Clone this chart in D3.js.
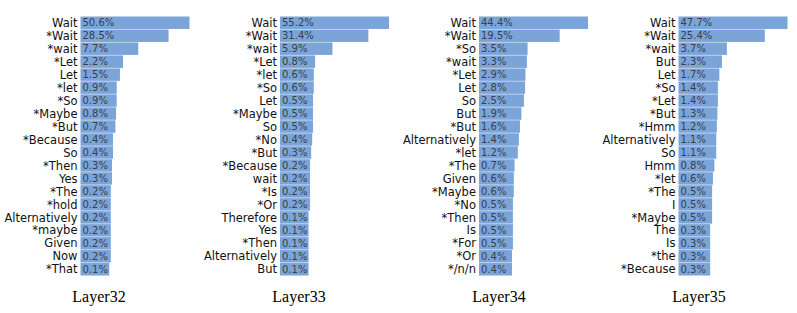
<!DOCTYPE html>
<html><head><meta charset="utf-8">
<script src="https://cdn.jsdelivr.net/npm/d3@7"></script>
<style>body{margin:0;background:#fff}svg{display:block}</style>
</head><body>
<svg id="c" width="797" height="313"></svg>
<script>
const panelTitles = ["Layer32", "Layer33", "Layer34", "Layer35"];
const tokens32 = ["Wait","*Wait","*wait","*Let","Let","*let","*So","*Maybe","*But","*Because","So","*Then","Yes","*The","*hold","Alternatively","*maybe","Given","Now","*That"];
const values32 = [50.6,28.5,7.7,2.2,1.5,0.9,0.9,0.8,0.7,0.4,0.4,0.3,0.3,0.2,0.2,0.2,0.2,0.2,0.2,0.1];
const tokens33 = ["Wait","*Wait","*wait","*Let","*let","*So","Let","*Maybe","So","*No","*But","*Because","wait","*Is","*Or","Therefore","Yes","*Then","Alternatively","But"];
const values33 = [55.2,31.4,5.9,0.8,0.6,0.6,0.5,0.5,0.5,0.4,0.3,0.2,0.2,0.2,0.2,0.1,0.1,0.1,0.1,0.1];
const tokens34 = ["Wait","*Wait","*So","*wait","*Let","Let","So","But","*But","Alternatively","*let","*The","Given","*Maybe","*No","*Then","Is","*For","*Or","*/n/n"];
const values34 = [44.4,19.5,3.5,3.3,2.9,2.8,2.5,1.9,1.6,1.4,1.2,0.7,0.6,0.6,0.5,0.5,0.5,0.5,0.4,0.4];
const tokens35 = ["Wait","*Wait","*wait","But","Let","*So","*Let","*But","*Hmm","Alternatively","So","Hmm","*let","*The","I","*Maybe","The","Is","*the","*Because"];
const values35 = [47.7,25.4,3.7,2.3,1.7,1.4,1.4,1.3,1.2,1.1,1.1,0.8,0.6,0.5,0.5,0.5,0.3,0.3,0.3,0.3];

const panels = [
  {title: panelTitles[0], tokens: tokens32, values: values32},
  {title: panelTitles[1], tokens: tokens33, values: values33},
  {title: panelTitles[2], tokens: tokens34, values: values34},
  {title: panelTitles[3], tokens: tokens35, values: values35}
];

const svg = d3.select("#c");
const barStarts = [80.5, 280, 479, 678.5];
const titleCenters = [99, 299, 499, 699];
const barColor = "#7ba4d9";

panels.forEach((p, i) => {
  const x0 = barStarts[i];
  const g = svg.append("g").attr("transform", `translate(${x0},0)`);
  const y = d3.scaleBand().domain(p.tokens).range([16.5, 275.5]).paddingInner(0.04);
  const x = d3.scaleSqrt().domain([0, d3.max(p.values)]).range([25, 109]);
  const rows = p.tokens.map((t, k) => ({t, v: p.values[k]}));

  g.selectAll("rect").data(rows).join("rect")
    .attr("x", 0).attr("y", d => y(d.t))
    .attr("width", d => x(d.v)).attr("height", y.bandwidth())
    .attr("fill", barColor);

  g.selectAll("text.lab").data(rows).join("text").attr("class", "lab")
    .attr("x", -3).attr("y", d => y(d.t) + y.bandwidth() / 2)
    .attr("dy", "0.36em").attr("text-anchor", "end")
    .attr("font-family", "DejaVu Sans").attr("font-size", 11.5).attr("fill", "#111")
    .text(d => d.t);

  g.selectAll("text.val").data(rows).join("text").attr("class", "val")
    .attr("x", 2).attr("y", d => y(d.t) + y.bandwidth() / 2)
    .attr("dy", "0.36em")
    .attr("font-family", "DejaVu Sans").attr("font-size", 10).attr("fill", "#3a3f4a")
    .text(d => d.v.toFixed(1) + "%");

  svg.append("text").attr("x", titleCenters[i]).attr("y", 302)
    .attr("text-anchor", "middle").attr("font-family", "Liberation Serif")
    .attr("font-size", 16).attr("fill", "#000").text(p.title);
});
</script>
</body></html>
